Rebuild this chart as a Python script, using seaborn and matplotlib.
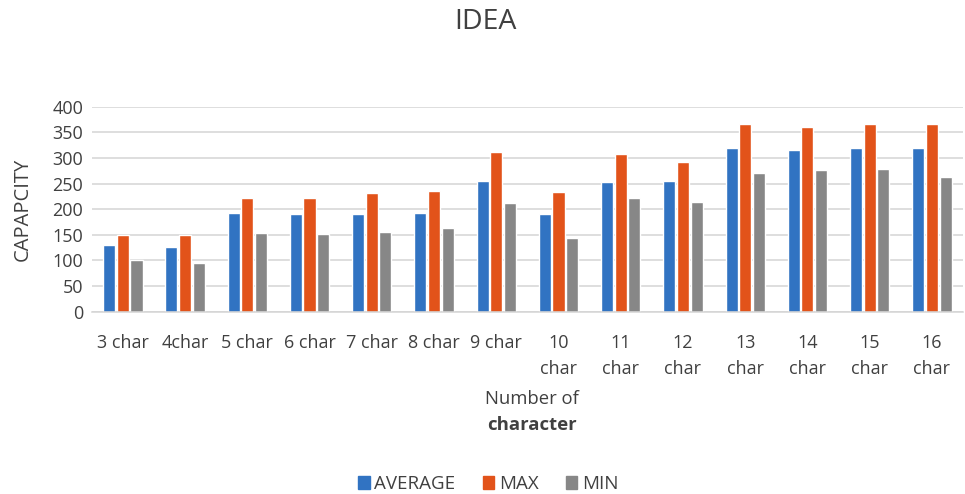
import matplotlib
matplotlib.use("Agg")
import matplotlib.pyplot as plt
import seaborn as sns
import pandas as pd

categories = ["3 char", "4char", "5 char", "6 char", "7 char", "8 char", "9 char",
              "10 char", "11 char", "12 char", "13 char", "14 char", "15 char", "16 char"]
average = [130, 126, 193, 191, 191, 193, 255, 190, 254, 256, 319, 315, 319, 320]
maximum = [150, 150, 222, 222, 232, 236, 312, 234, 307, 293, 366, 360, 366, 366]
minimum = [100, 96, 153, 151, 155, 163, 213, 143, 221, 215, 270, 276, 279, 263]
series = ["AVERAGE", "MAX", "MIN"]
yticks = [0, 50, 100, 150, 200, 250, 300, 350, 400]

rows = []
for name, vals in zip(series, [average, maximum, minimum]):
    for c, v in zip(categories, vals):
        rows.append({"cat": c, "series": name, "value": v})
df = pd.DataFrame(rows)

sns.set_theme(style="white")
plt.rcParams["font.family"] = ["Open Sans", "DejaVu Sans"]

fig = plt.figure(figsize=(9.65, 4.94), dpi=100)
ax = fig.add_axes([0.095, 0.369, 0.903, 0.415])

palette = {"AVERAGE": "#3173c2", "MAX": "#e2531a", "MIN": "#878787"}
sns.barplot(data=df, x="cat", y="value", hue="series", order=categories,
            hue_order=series, palette=palette, width=0.66, gap=0.12,
            saturation=1, ax=ax, legend=False)

ax.set_ylim(0, 400)
ax.set_xlim(-0.5, len(categories) - 0.5)
ax.set_yticks(yticks)
ax.set_yticklabels([str(t) for t in yticks], fontsize=13, color="#404040")
ax.yaxis.grid(True, color="#d4d4d4", linewidth=1.1)
ax.set_axisbelow(True)
for s in ["top", "right", "left"]:
    ax.spines[s].set_visible(False)
ax.spines["bottom"].set_color("#d4d4d4")
ax.spines["bottom"].set_linewidth(1.1)
ax.tick_params(axis="both", length=0, pad=6)

xlabels = [c if len(c) <= 6 else c.replace(" ", "\n") for c in categories]
ax.set_xticks(range(len(categories)))
ax.set_xticklabels(xlabels, fontsize=13, color="#404040", linespacing=1.55, va="top")
ax.tick_params(axis="x", pad=16)

ax.set_ylabel("CAPAPCITY", fontsize=14.5, color="#404040", labelpad=14)
ax.set_xlabel("")

fig.text(0.503, 0.955, "IDEA", ha="center", va="center", fontsize=20.5, color="#404040")
fig.text(0.551, 0.193, "Number of", ha="center", va="center", fontsize=13.3, color="#404040")
fig.text(0.551, 0.140, "character", ha="center", va="center", fontsize=13.3,
         color="#404040", fontweight="bold")

handles = [plt.Rectangle((0, 0), 1, 1, color=palette[s]) for s in series]
fig.legend(handles, series, loc="center", bbox_to_anchor=(0.506, 0.02), ncol=3,
           frameon=False, fontsize=13.5, handlelength=0.62, handleheight=0.62,
           handletextpad=0.25, columnspacing=1.45, labelcolor="#404040")

fig.savefig("out.png", dpi=100)
